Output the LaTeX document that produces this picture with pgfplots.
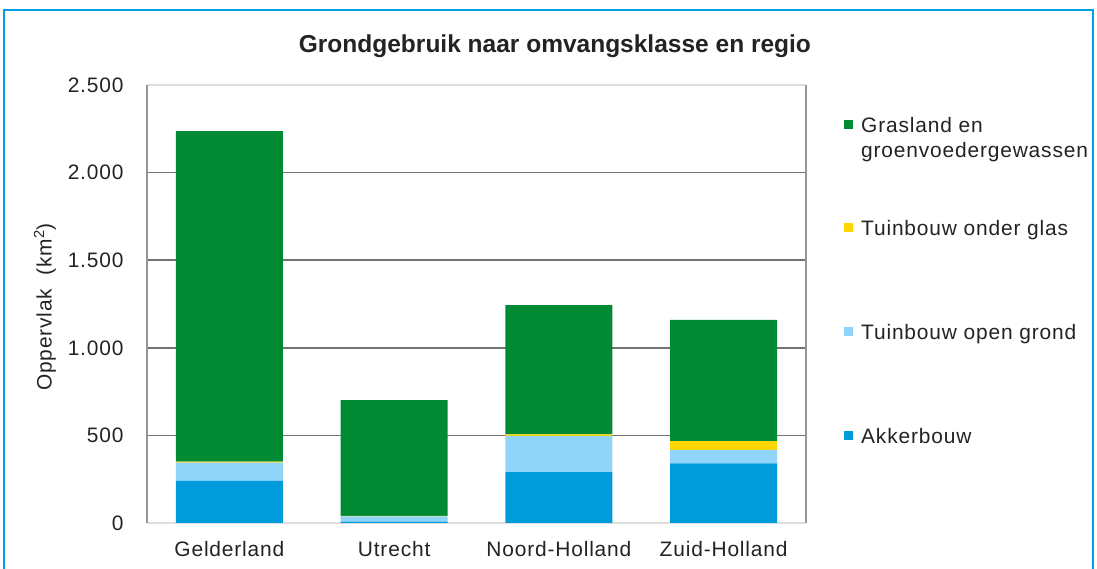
\documentclass[border=0pt]{standalone}
\usepackage{pgfplots}
\pgfplotsset{compat=1.18}
\usepackage{fontspec}
\setmainfont{Liberation Sans}[LetterSpace=4]
\newfontfamily\titlefont{Liberation Sans}
\definecolor{cgreen}{RGB}{0,138,52}
\definecolor{cblue}{RGB}{0,155,219}
\definecolor{clight}{RGB}{145,212,250}
\definecolor{cyellow}{RGB}{255,214,0}
\definecolor{cgrid}{RGB}{115,115,115}
\definecolor{cframe}{RGB}{150,150,150}
\definecolor{cborder}{RGB}{0,160,230}
\definecolor{ctext}{RGB}{35,35,35}
\begin{document}
\begin{tikzpicture}
\useasboundingbox (0,0) rectangle (1097bp,569bp);
\fill[white] (0,0) rectangle (1097bp,569bp);
\draw[line width=1.5bp, cborder] (4bp,-5bp) -- (4bp,559bp) -- (1093bp,559bp) -- (1093bp,-5bp);
\begin{axis}[
  at={(147bp,46bp)}, anchor=south west,
  scale only axis, width=659bp, height=438bp,
  ybar stacked, bar width=107bp,
  xmin=-0.5, xmax=3.5, ymin=0, ymax=2500,
  xtick={0,1,2,3},
  xticklabels={Gelderland,Utrecht,Noord-Holland,Zuid-Holland},
  ytick={500,1000,1500,2000,2500},
  extra y ticks={0}, extra y tick style={grid=none},
  scaled y ticks=false,
  /pgf/number format/assume math mode=true,
  /pgf/number format/1000 sep={.},
  major tick length=0pt,
  ymajorgrids, grid style={line width=1.5bp, cgrid},
  separate axis lines,
  every outer y axis line/.append style={line width=1.5bp, cframe},
  every outer x axis line/.append style={line width=1.2bp, gray!25},
  font=\fontsize{21}{26}\selectfont,
  text=ctext,
  xticklabel style={anchor=base, yshift=-33bp},
  yticklabel style={xshift=-20bp},
  ylabel={Oppervlak\ \ (km\textsuperscript{2})},
  ylabel style={at={(axis description cs:-0.155,0.493)}, anchor=center},
  title={\titlefont\bfseries Grondgebruik naar omvangsklasse en regio},
  title style={at={(axis description cs:0.619,1.076)}, anchor=center, font=\fontsize{24.6}{28}\selectfont},
  reverse legend,
  legend image code/.code={\fill[#1] (0bp,3.5bp) rectangle (9bp,12.5bp);},
  legend style={at={(axis description cs:1.0577,0.9276)}, anchor=north west,
    draw=none, fill=none, inner sep=0pt, row sep=87bp, column sep=8bp,
    cells={anchor=base west}, nodes={inner sep=0pt}},
]
\addplot[fill=cblue, draw=none] coordinates {(0,241) (1,8) (2,291) (3,341)};
\addlegendentry{Akkerbouw}
\addplot[fill=clight, draw=none] coordinates {(0,103) (1,30) (2,206) (3,76)};
\addlegendentry{Tuinbouw open grond}
\addplot[fill=cyellow, draw=none] coordinates {(0,6) (1,2) (2,9) (3,51)};
\addlegendentry{Tuinbouw onder glas}
\addplot[fill=cgreen, draw=none] coordinates {(0,1887) (1,662) (2,738) (3,691)};
\addlegendentry{\parbox[t]{240bp}{Grasland en\\groenvoedergewassen}}
\end{axis}
\end{tikzpicture}
\end{document}
